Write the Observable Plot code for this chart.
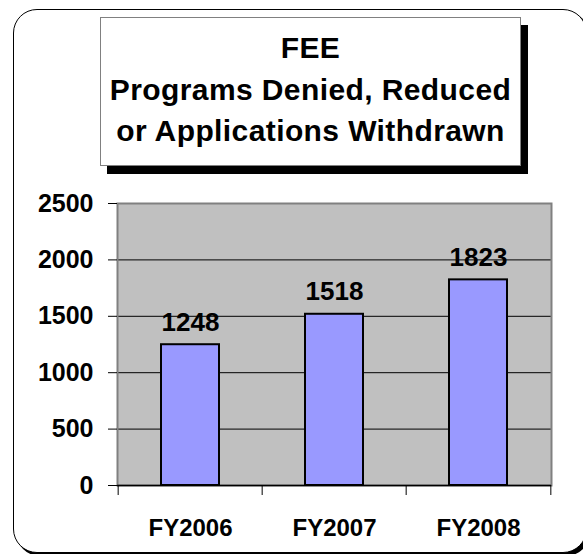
<!DOCTYPE html>
<html>
<head>
<meta charset="utf-8">
<script src="https://cdn.jsdelivr.net/npm/d3@7"></script>
<script src="https://cdn.jsdelivr.net/npm/@observablehq/plot@0.6"></script>
<style>
  html, body { margin: 0; padding: 0; background: #fff; }
  body { width: 583px; height: 554px; overflow: hidden; position: relative; font-family: "Liberation Sans", Arial, sans-serif; }
  #frame { position: absolute; left: 13px; top: 9px; width: 572px; height: 542px; border: 1.5px solid #000; border-radius: 24px; box-shadow: 3px 3px 0 #000; background: #fff; }
  #title { position: absolute; left: 100px; top: 17px; width: 419px; height: 138px; border: 1px solid #808080; background: #fff; box-shadow: 7px 8px 0 #000; text-align: center; font-weight: bold; font-size: 30px; line-height: 41.5px; color: #000; padding-top: 9px; box-sizing: content-box; font-family: "Liberation Sans", Arial, sans-serif; letter-spacing: 0.4px; }
  #title div { white-space: nowrap; }
  #chart { position: absolute; left: 0; top: 190px; }
  #chart svg text { font-family: "Liberation Sans", Arial, sans-serif; }
</style>
</head>
<body>
<div id="frame"></div>
<div id="title"><div>FEE</div><div>Programs Denied, Reduced</div><div>or Applications Withdrawn</div></div>
<div id="chart"></div>
<script>
const categories = ["FY2006", "FY2007", "FY2008"];
const values = [1248, 1518, 1823];
const yTicks = [0, 500, 1000, 1500, 2000, 2500];
const gridValues = [500, 1000, 1500, 2000];

const data = categories.map((c, i) => ({category: c, value: values[i]}));

const W = 583, H = 364, ML = 117, MR = 32, MT = 13, MB = 69;
const step = (W - ML - MR) / categories.length;
const font = "Liberation Sans, Arial, sans-serif";

const chart = Plot.plot({
  width: W,
  height: H,
  marginLeft: ML,
  marginRight: MR,
  marginTop: MT,
  marginBottom: MB,
  style: {background: "transparent", fontFamily: font, color: "#000", overflow: "visible"},
  x: {domain: categories, paddingInner: 0.6, paddingOuter: 0.3, axis: null, label: null},
  y: {domain: [0, 2500], axis: null, label: null},
  marks: [
    Plot.frame({fill: "#c0c0c0", stroke: null}),
    Plot.ruleY(gridValues, {stroke: "#000", strokeWidth: 1}),
    Plot.frame({stroke: "#808080", strokeWidth: 2, fill: null}),
    Plot.barY(data, {x: "category", y: "value", fill: "#9999ff", stroke: "#000", strokeWidth: 2}),
    Plot.ruleY([0], {stroke: "#000", strokeWidth: 1.5}),
    Plot.text(data, {x: "category", y: "value", text: d => String(d.value), dy: -14, lineAnchor: "bottom", fontSize: 26, fontWeight: "bold", fill: "#000"}),
    Plot.axisY({ticks: yTicks, label: null, tickSize: 9, tickPadding: 15, fontSize: 25, fontWeight: "bold", stroke: "#000", strokeWidth: 1, tickFormat: d => String(d)}),
    Plot.axisX({label: null, tickSize: 0, tickPadding: 33, fontSize: 24, fontWeight: "bold"}),
    Plot.axisX({label: null, tickSize: 10, text: null, dx: -step / 2, stroke: "#000"}),
    Plot.axisX({label: null, ticks: [categories[categories.length - 1]], tickSize: 10, text: null, dx: step / 2, stroke: "#000"})
  ]
});
document.getElementById("chart").appendChild(chart);
</script>
</body>
</html>
